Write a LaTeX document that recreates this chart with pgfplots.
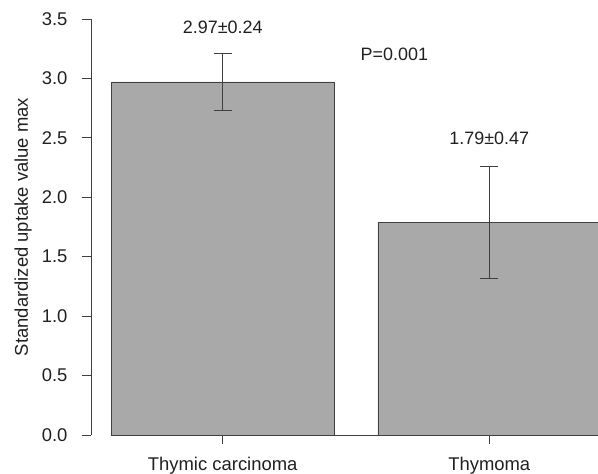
\documentclass[border=0pt]{standalone}
\usepackage{pgfplots}
\pgfplotsset{compat=1.18}
\usepackage{fontspec}
\setmainfont{Liberation Sans}
\definecolor{barfill}{HTML}{A9A9A9}
\definecolor{edge}{HTML}{404040}
\definecolor{txt}{HTML}{231F20}
\begin{document}
\begin{tikzpicture}
\begin{axis}[
  scale only axis, width=507bp, height=416bp,
  xmin=-0.494, xmax=1.408, ymin=0, ymax=3.5,
  axis lines=left,
  axis line style={-, draw=edge, line width=0.9bp},
  x axis line style={draw=none},
  tick align=outside, major tick length=9bp,
  tick style={draw=edge, line width=0.9bp},
  xtick={0,1}, xticklabels={Thymic carcinoma, Thymoma},
  ytick={0,0.5,1,1.5,2,2.5,3,3.5},
  /pgf/number format/assume math mode=true,
  yticklabel style={/pgf/number format/fixed, /pgf/number format/fixed zerofill, /pgf/number format/precision=1, xshift=-11bp},
  xticklabel style={yshift=-10bp},
  font=\fontsize{18.5}{22}\selectfont,
  every tick label/.append style={text=txt},
  ybar, bar width=0.835, bar shift=0pt,
  clip=true,
]
\addplot[fill=barfill, draw=edge, line width=0.9bp,
  error bars/.cd, y dir=both, y explicit,
  error bar style={draw=edge, line width=0.9bp},
  error mark options={draw=edge, line width=0.9bp, mark size=9bp, rotate=90}]
  coordinates {(0,2.97) +- (0,0.24) (1,1.79) +- (0,0.47)};
\draw[edge, line width=0.9bp] (axis cs:-0.417,0) -- (axis cs:1.408,0);
\node[text=txt, font=\fontsize{18}{21}\selectfont] at (axis cs:0,3.43) {2.97±0.24};
\node[text=txt, font=\fontsize{18}{21}\selectfont] at (axis cs:0.644,3.20) {P=0.001};
\node[text=txt, font=\fontsize{18}{21}\selectfont] at (axis cs:1,2.50) {1.79±0.47};
\end{axis}
\node[rotate=90, text=txt, font=\fontsize{18.5}{22}\selectfont] at (-68bp,208bp) {Standardized uptake value max};
\pgfresetboundingbox
\path[use as bounding box] (-91bp,-39bp) rectangle (507bp,435bp);
\end{tikzpicture}
\end{document}
